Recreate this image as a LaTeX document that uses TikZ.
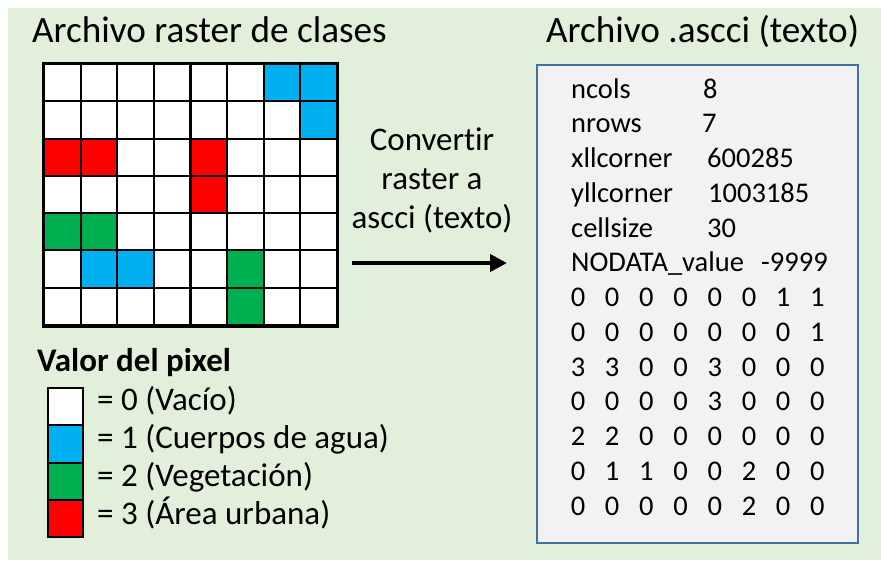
\documentclass[tikz,border=0pt]{standalone}
\usepackage{fontspec}
\setmainfont{Carlito}[Ligatures=CommonOff]
\usetikzlibrary{arrows.meta}

\definecolor{fondo}{HTML}{E2EFDA}
\definecolor{cajagris}{HTML}{F2F2F2}
\definecolor{bordeazul}{HTML}{41719C}
\colorlet{clase0}{white}
\definecolor{clase1}{HTML}{00B0F0}
\definecolor{clase2}{HTML}{00B050}
\definecolor{clase3}{HTML}{FF0000}

\tikzset{
  celda/.style={draw, line width=2pt, minimum width=36.6pt, minimum height=37.3pt, inner sep=0pt, anchor=north west},
  muestra/.style={draw, line width=2pt, minimum width=35pt, minimum height=37.3pt, inner sep=0pt, anchor=north west},
  titulo/.style={font=\fontsize{37.2}{42}\selectfont, anchor=base west, inner sep=0pt},
  texto/.style={font=\fontsize{33}{39}\selectfont, anchor=base west, inner sep=0pt},
  ascii/.style={font=\fontsize{28.5}{32}\selectfont, anchor=base west, inner sep=0pt},
  digito/.style={font=\fontsize{28.5}{32}\selectfont, anchor=base, inner sep=0pt},
}

\begin{document}
\begin{tikzpicture}[x=1pt, y=-1pt]
      \useasboundingbox (0,0) rectangle (881,560);
      \fill[fondo] (8,8) rectangle (881,560);
      % titulos
      \node[titulo] (tit-raster) at (32,42) {Archivo raster de clases};
      \node[titulo] (tit-ascii) at (546,42) {Archivo .ascci (texto)};
      % caja del archivo de texto
      \node[draw=bordeazul, line width=1.5pt, fill=cajagris, minimum width=321pt, minimum height=478pt, anchor=north west] (caja) at (536,64) {};
      \foreach \etiqueta/\valor/\xv [count=\i] in {ncols/8/703, nrows/7/702, xllcorner/600285/707, yllcorner/1003185/708, cellsize/30/707, NODATA\_value/-9999/761}
      {
        \node[ascii] (et-\i) at (571, {98+34.75*(\i-1)}) {\etiqueta};
        \node[ascii] (val-\i) at (\xv, {98+34.75*(\i-1)}) {\valor};
      }
      % raster y valores
      \foreach \fila [count=\r] in {{0,0,0,0,0,0,1,1},{0,0,0,0,0,0,0,1},{3,3,0,0,3,0,0,0},{0,0,0,0,3,0,0,0},{2,2,0,0,0,0,0,0},{0,1,1,0,0,2,0,0},{0,0,0,0,0,2,0,0}}
      {
        \foreach \v [count=\c] in \fila
        {
          \node[celda, fill=clase\v] (c-\r-\c) at ({43+36.625*(\c-1)}, {63+37.29*(\r-1)}) {};
          \node[digito] (d-\r-\c) at ({578+34.2*(\c-1)}, {306.5+34.75*(\r-1)}) {\v};
        }
      }
      \draw[line width=3pt] (c-1-1.north west) rectangle (c-7-8.south east);
      % conversion
      \node[texto, align=center, anchor=base] (conv) at (432,228) {Convertir\\raster a\\ascci (texto)};
      \coordinate (flecha-ini) at (352,263);
      \coordinate (flecha-fin) at (507,263);
      \draw[-{Triangle[length=17pt, width=17pt]}, line width=4.5pt] (flecha-ini) -- (flecha-fin);
      % leyenda
      \node[font=\bfseries\fontsize{33}{39}\selectfont, anchor=base west, inner sep=0pt] (leyenda) at (37,371) {Valor del pixel};
      \foreach \v/\desc [count=\i] in {0/Vacío, 1/Cuerpos de agua, 2/Vegetación, 3/Área urbana}
      {
        \node[muestra, fill=clase\v] (ley-\v) at (47, {387+37.3*(\i-1)}) {};
        \node[texto] (desc-\v) at (97, {410+38.3*(\i-1)}) {= \v{} (\desc)};
      }
\end{tikzpicture}
\end{document}
